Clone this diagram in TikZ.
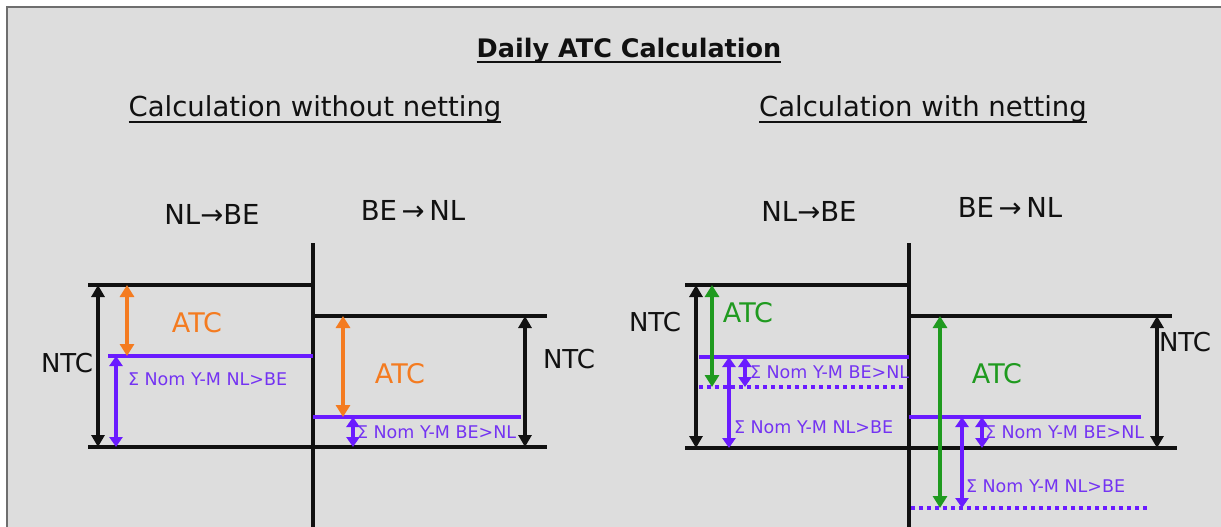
\documentclass[tikz,border=0pt]{standalone}
\usepackage{fontspec}
\setmainfont{DejaVu Sans}
\usetikzlibrary{arrows.meta,calc}
\definecolor{bg}{HTML}{DDDDDD}
\definecolor{framecol}{HTML}{6E6E6E}
\definecolor{atcorange}{HTML}{F47B20}
\definecolor{nompurple}{HTML}{6A1BFF}
\definecolor{nomtext}{HTML}{7433F2}
\definecolor{atcgreen}{HTML}{1F9A1F}
\definecolor{ink}{HTML}{111111}
\begin{document}
\begin{tikzpicture}[x=1pt,y=-1pt,
  txt/.style={inner sep=0pt, outer sep=0pt, text=ink},
  titlefont/.style={txt, font=\fontsize{25.5}{30}\bfseries\selectfont},
  subfont/.style={txt, font=\fontsize{27.5}{32}\selectfont},
  dirfont/.style={txt, font=\fontsize{27.5}{32}\selectfont},
  ntcfont/.style={txt, font=\fontsize{26}{30}\selectfont},
  atcfont/.style={txt, font=\fontsize{27}{32}\selectfont},
  nomfont/.style={txt, text=nomtext, font=\fontsize{17.5}{21}\selectfont, anchor=west},
  lvl/.style={line width=3.5pt, ink},
  nomline/.style={line width=3.5pt, nompurple},
  nomdot/.style={line width=4pt, nompurple, dash pattern=on 4pt off 4pt},
  ulinestyle/.style={line width=1.8pt, ink},
  blkarrow/.style={line width=3.5pt, ink, {Triangle[width=13pt,length=12pt]}-{Triangle[width=13pt,length=12pt]}},
  orarrow/.style={line width=4pt, atcorange, {Triangle[width=14pt,length=12pt]}-{Triangle[width=14pt,length=12pt]}},
  grarrow/.style={line width=4pt, atcgreen, {Triangle[width=14pt,length=12pt]}-{Triangle[width=14pt,length=12pt]}},
  purarrow/.style={line width=4pt, nompurple, {Triangle[width=13pt,length=10pt]}-{Triangle[width=13pt,length=10pt]}},
]
\useasboundingbox (0,0) rectangle (1221,527);
\fill[white] (0,0) rectangle (1221,527);
\fill[bg] (7,7) rectangle (1221,527);
\draw[framecol, line width=1.5pt] (7,527) -- (7,7) -- (1221,7);

% titles
\node[titlefont, anchor=base] (title) at (629,58) {Daily ATC Calculation};
\draw[ulinestyle] ($(title.base west)+(0,4)$) -- ($(title.base east)+(0,4)$);
\node[subfont, anchor=base] (subL) at (315,117) {Calculation without netting};
\draw[ulinestyle] ($(subL.base west)+(0,5)$) -- ($(subL.base east)+(0,5)$);
\node[subfont, anchor=base] (subR) at (923,117) {Calculation with netting};
\draw[ulinestyle] ($(subR.base west)+(0,5)$) -- ($(subR.base east)+(0,5)$);

% ---------- left diagram ----------
\node[dirfont] (dirL1) at (212,214) {NL→BE};
\node[dirfont] (dirL2) at (413,210) {BE\,→\,NL};

\draw[lvl] (88,285) -- (313,285);
\draw[lvl] (313,316) -- (547,316);
\draw[lvl] (88,447) -- (547,447);
\draw[lvl] (313,243) -- (313,527);
\draw[nomline] (108,356) -- (313,356);
\draw[nomline] (313,417) -- (521,417);

\draw[blkarrow] (98,285) -- (98,447);
\draw[orarrow] (127,285) -- (127,356);
\draw[purarrow] (116,356) -- (116,447);
\draw[orarrow] (343,316) -- (343,417);
\draw[purarrow] (353,417) -- (353,447);
\draw[blkarrow] (525,316) -- (525,447);

\node[ntcfont] (ntcL1) at (67,363) {NTC};
\node[atcfont, text=atcorange] (atcL1) at (197,323) {ATC};
\node[nomfont] (nomL1) at (128,379) {Σ Nom Y-M NL>BE};
\node[atcfont, text=atcorange] (atcL2) at (400,374) {ATC};
\node[nomfont] (nomL2) at (357,432) {Σ Nom Y-M BE>NL};
\node[ntcfont] (ntcL2) at (569,359) {NTC};

% ---------- right diagram ----------
\node[dirfont] (dirR1) at (809,211) {NL→BE};
\node[dirfont] (dirR2) at (1010,207) {BE\,→\,NL};

\draw[lvl] (685,285) -- (909,285);
\draw[lvl] (909,316) -- (1172,316);
\draw[lvl] (685,448) -- (1177,448);
\draw[lvl] (909,243) -- (909,527);
\draw[nomline] (699,357) -- (909,357);
\draw[nomdot] (699,387) -- (906,387);
\draw[nomline] (909,417) -- (1141,417);
\draw[nomdot] (911,508) -- (1147,508);

\draw[blkarrow] (696,285) -- (696,448);
\draw[grarrow] (712,285) -- (712,387);
\draw[purarrow] (729,357) -- (729,448);
\draw[purarrow] (745,357) -- (745,387);
\draw[grarrow] (940,316) -- (940,508);
\draw[purarrow] (962,417) -- (962,508);
\draw[purarrow] (982,417) -- (982,448);
\draw[blkarrow] (1157,316) -- (1157,448);

\node[ntcfont] (ntcR1) at (655,322) {NTC};
\node[atcfont, text=atcgreen] (atcR1) at (748,313) {ATC};
\node[nomfont] (nomR1) at (750,372) {Σ Nom Y-M BE>NL};
\node[nomfont] (nomR2) at (734,427) {Σ Nom Y-M NL>BE};
\node[atcfont, text=atcgreen] (atcR2) at (997,374) {ATC};
\node[nomfont] (nomR3) at (985,432) {Σ Nom Y-M BE>NL};
\node[nomfont] (nomR4) at (966,486) {Σ Nom Y-M NL>BE};
\node[ntcfont] (ntcR2) at (1185,342) {NTC};
\end{tikzpicture}
\end{document}
